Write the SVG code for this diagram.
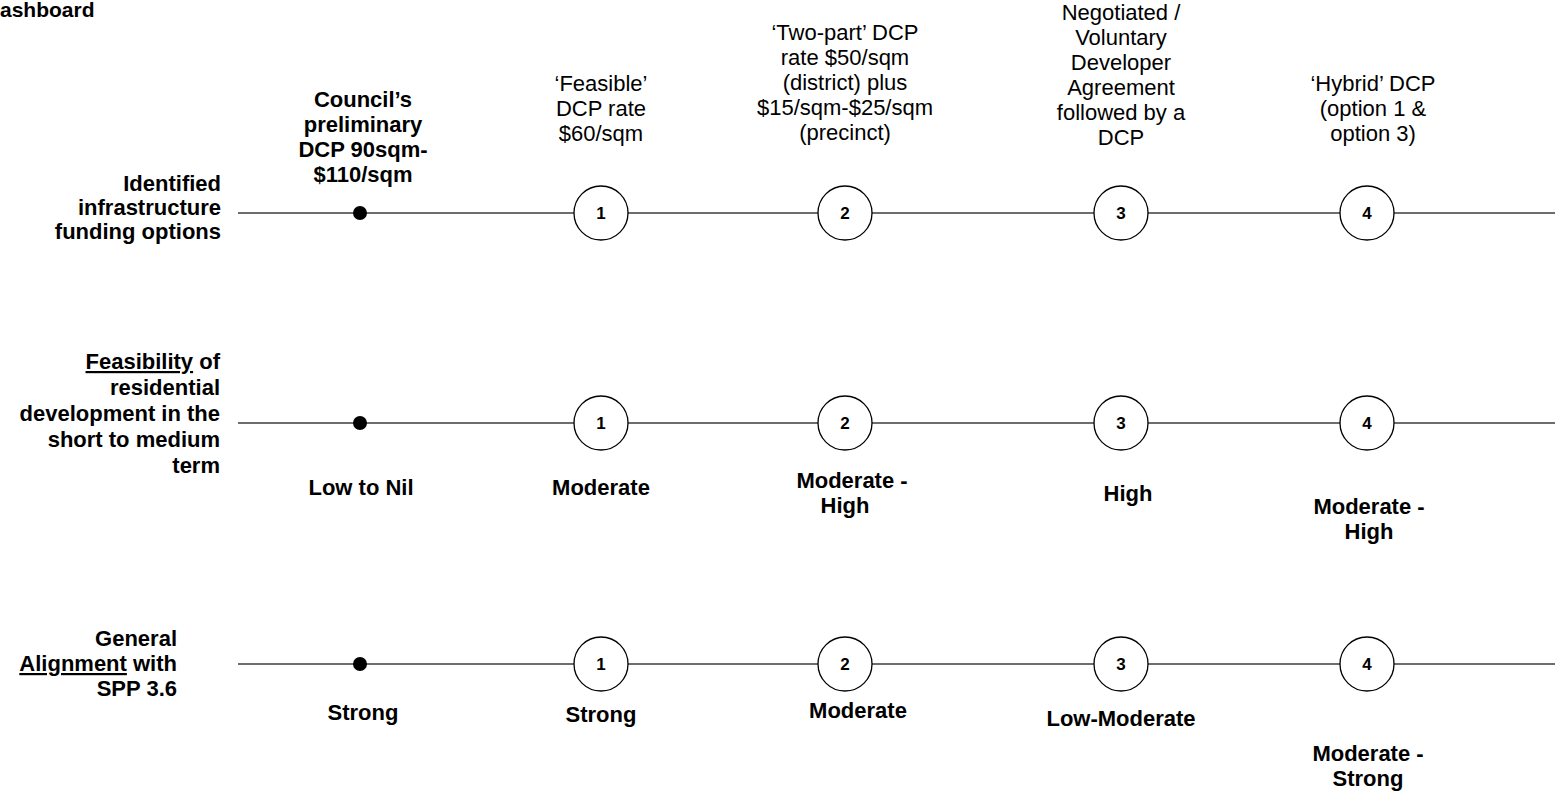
<svg xmlns="http://www.w3.org/2000/svg" width="1555" height="793" viewBox="0 0 1555 793">
<style>
  text { font-family: "Liberation Sans", Arial, sans-serif; font-size: 22px; fill: #000; }
  .b { font-weight: bold; }
  .c { text-anchor: middle; }
  .r { text-anchor: end; }
  .n { font-size: 17px; font-weight: bold; text-anchor: middle; }
  .ln { stroke: #3c3c3c; stroke-width: 1.5; fill: none; }
  .ring { fill: #fff; stroke: #000; stroke-width: 1.3; }
  .dot { fill: #000; }
</style>
<rect width="1555" height="793" fill="#fff"/>
<text class="b" x="0" y="17" style="font-size:21px">ashboard</text>

<g id="connectors">
  <line class="ln" x1="238" y1="213" x2="1555" y2="213"/>
  <line class="ln" x1="238" y1="423" x2="1555" y2="423"/>
  <line class="ln" x1="238" y1="664" x2="1555" y2="664"/>
</g>

<g id="row1-label">
  <text class="b r" x="221" y="191">Identified</text>
  <text class="b r" x="221" y="215">infrastructure</text>
  <text class="b r" x="221" y="239">funding options</text>
</g>
<g id="row2-label">
  <text class="b r" x="220" y="369"><tspan text-decoration="underline">Feasibility</tspan> of</text>
  <text class="b r" x="220" y="395">residential</text>
  <text class="b r" x="220" y="421">development in the</text>
  <text class="b r" x="220" y="447">short to medium</text>
  <text class="b r" x="220" y="473">term</text>
</g>
<g id="row3-label">
  <text class="b r" x="177" y="646">General</text>
  <text class="b r" x="177" y="671"><tspan text-decoration="underline">Alignment</tspan> with</text>
  <text class="b r" x="177" y="696">SPP 3.6</text>
</g>

<g id="opt0-head">
  <text class="b c" x="363" y="107">Council’s</text>
  <text class="b c" x="363" y="132">preliminary</text>
  <text class="b c" x="363" y="157">DCP 90sqm-</text>
  <text class="b c" x="363" y="182">$110/sqm</text>
</g>
<g id="opt1-head">
  <text class="c" x="601" y="91">‘Feasible’</text>
  <text class="c" x="601" y="116">DCP rate</text>
  <text class="c" x="601" y="141">$60/sqm</text>
</g>
<g id="opt2-head">
  <text class="c" x="845" y="40">‘Two-part’ DCP</text>
  <text class="c" x="845" y="65">rate $50/sqm</text>
  <text class="c" x="845" y="90">(district) plus</text>
  <text class="c" x="845" y="115">$15/sqm-$25/sqm</text>
  <text class="c" x="845" y="140">(precinct)</text>
</g>
<g id="opt3-head">
  <text class="c" x="1121" y="20">Negotiated /</text>
  <text class="c" x="1121" y="45">Voluntary</text>
  <text class="c" x="1121" y="70">Developer</text>
  <text class="c" x="1121" y="95">Agreement</text>
  <text class="c" x="1121" y="120">followed by a</text>
  <text class="c" x="1121" y="145">DCP</text>
</g>
<g id="opt4-head">
  <text class="c" x="1373" y="91">‘Hybrid’ DCP</text>
  <text class="c" x="1373" y="116">(option 1 &amp;</text>
  <text class="c" x="1373" y="141">option 3)</text>
</g>

<g id="row1-nodes">
  <circle class="dot" cx="360" cy="213" r="7"/>
  <g id="r1n1"><circle class="ring" cx="601" cy="213" r="27"/><text class="n" x="601" y="219">1</text></g>
  <g id="r1n2"><circle class="ring" cx="845" cy="213" r="27"/><text class="n" x="845" y="219">2</text></g>
  <g id="r1n3"><circle class="ring" cx="1121" cy="213" r="27"/><text class="n" x="1121" y="219">3</text></g>
  <g id="r1n4"><circle class="ring" cx="1367" cy="213" r="27"/><text class="n" x="1367" y="219">4</text></g>
</g>
<g id="row2-nodes">
  <circle class="dot" cx="360" cy="423" r="7"/>
  <g id="r2n1"><circle class="ring" cx="601" cy="423" r="27"/><text class="n" x="601" y="429">1</text></g>
  <g id="r2n2"><circle class="ring" cx="845" cy="423" r="27"/><text class="n" x="845" y="429">2</text></g>
  <g id="r2n3"><circle class="ring" cx="1121" cy="423" r="27"/><text class="n" x="1121" y="429">3</text></g>
  <g id="r2n4"><circle class="ring" cx="1367" cy="423" r="27"/><text class="n" x="1367" y="429">4</text></g>
</g>
<g id="row3-nodes">
  <circle class="dot" cx="360" cy="664" r="7"/>
  <g id="r3n1"><circle class="ring" cx="601" cy="664" r="27"/><text class="n" x="601" y="670">1</text></g>
  <g id="r3n2"><circle class="ring" cx="845" cy="664" r="27"/><text class="n" x="845" y="670">2</text></g>
  <g id="r3n3"><circle class="ring" cx="1121" cy="664" r="27"/><text class="n" x="1121" y="670">3</text></g>
  <g id="r3n4"><circle class="ring" cx="1367" cy="664" r="27"/><text class="n" x="1367" y="670">4</text></g>
</g>

<g id="row2-values">
  <text class="b c" x="361" y="495">Low to Nil</text>
  <text class="b c" x="601" y="495">Moderate</text>
  <text class="b c" x="852" y="488">Moderate -</text>
  <text class="b c" x="845" y="513">High</text>
  <text class="b c" x="1128" y="501">High</text>
  <text class="b c" x="1369" y="514">Moderate -</text>
  <text class="b c" x="1369" y="539">High</text>
</g>
<g id="row3-values">
  <text class="b c" x="363" y="720">Strong</text>
  <text class="b c" x="601" y="722">Strong</text>
  <text class="b c" x="858" y="718">Moderate</text>
  <text class="b c" x="1121" y="726">Low-Moderate</text>
  <text class="b c" x="1368" y="761">Moderate -</text>
  <text class="b c" x="1368" y="786">Strong</text>
</g>
</svg>
